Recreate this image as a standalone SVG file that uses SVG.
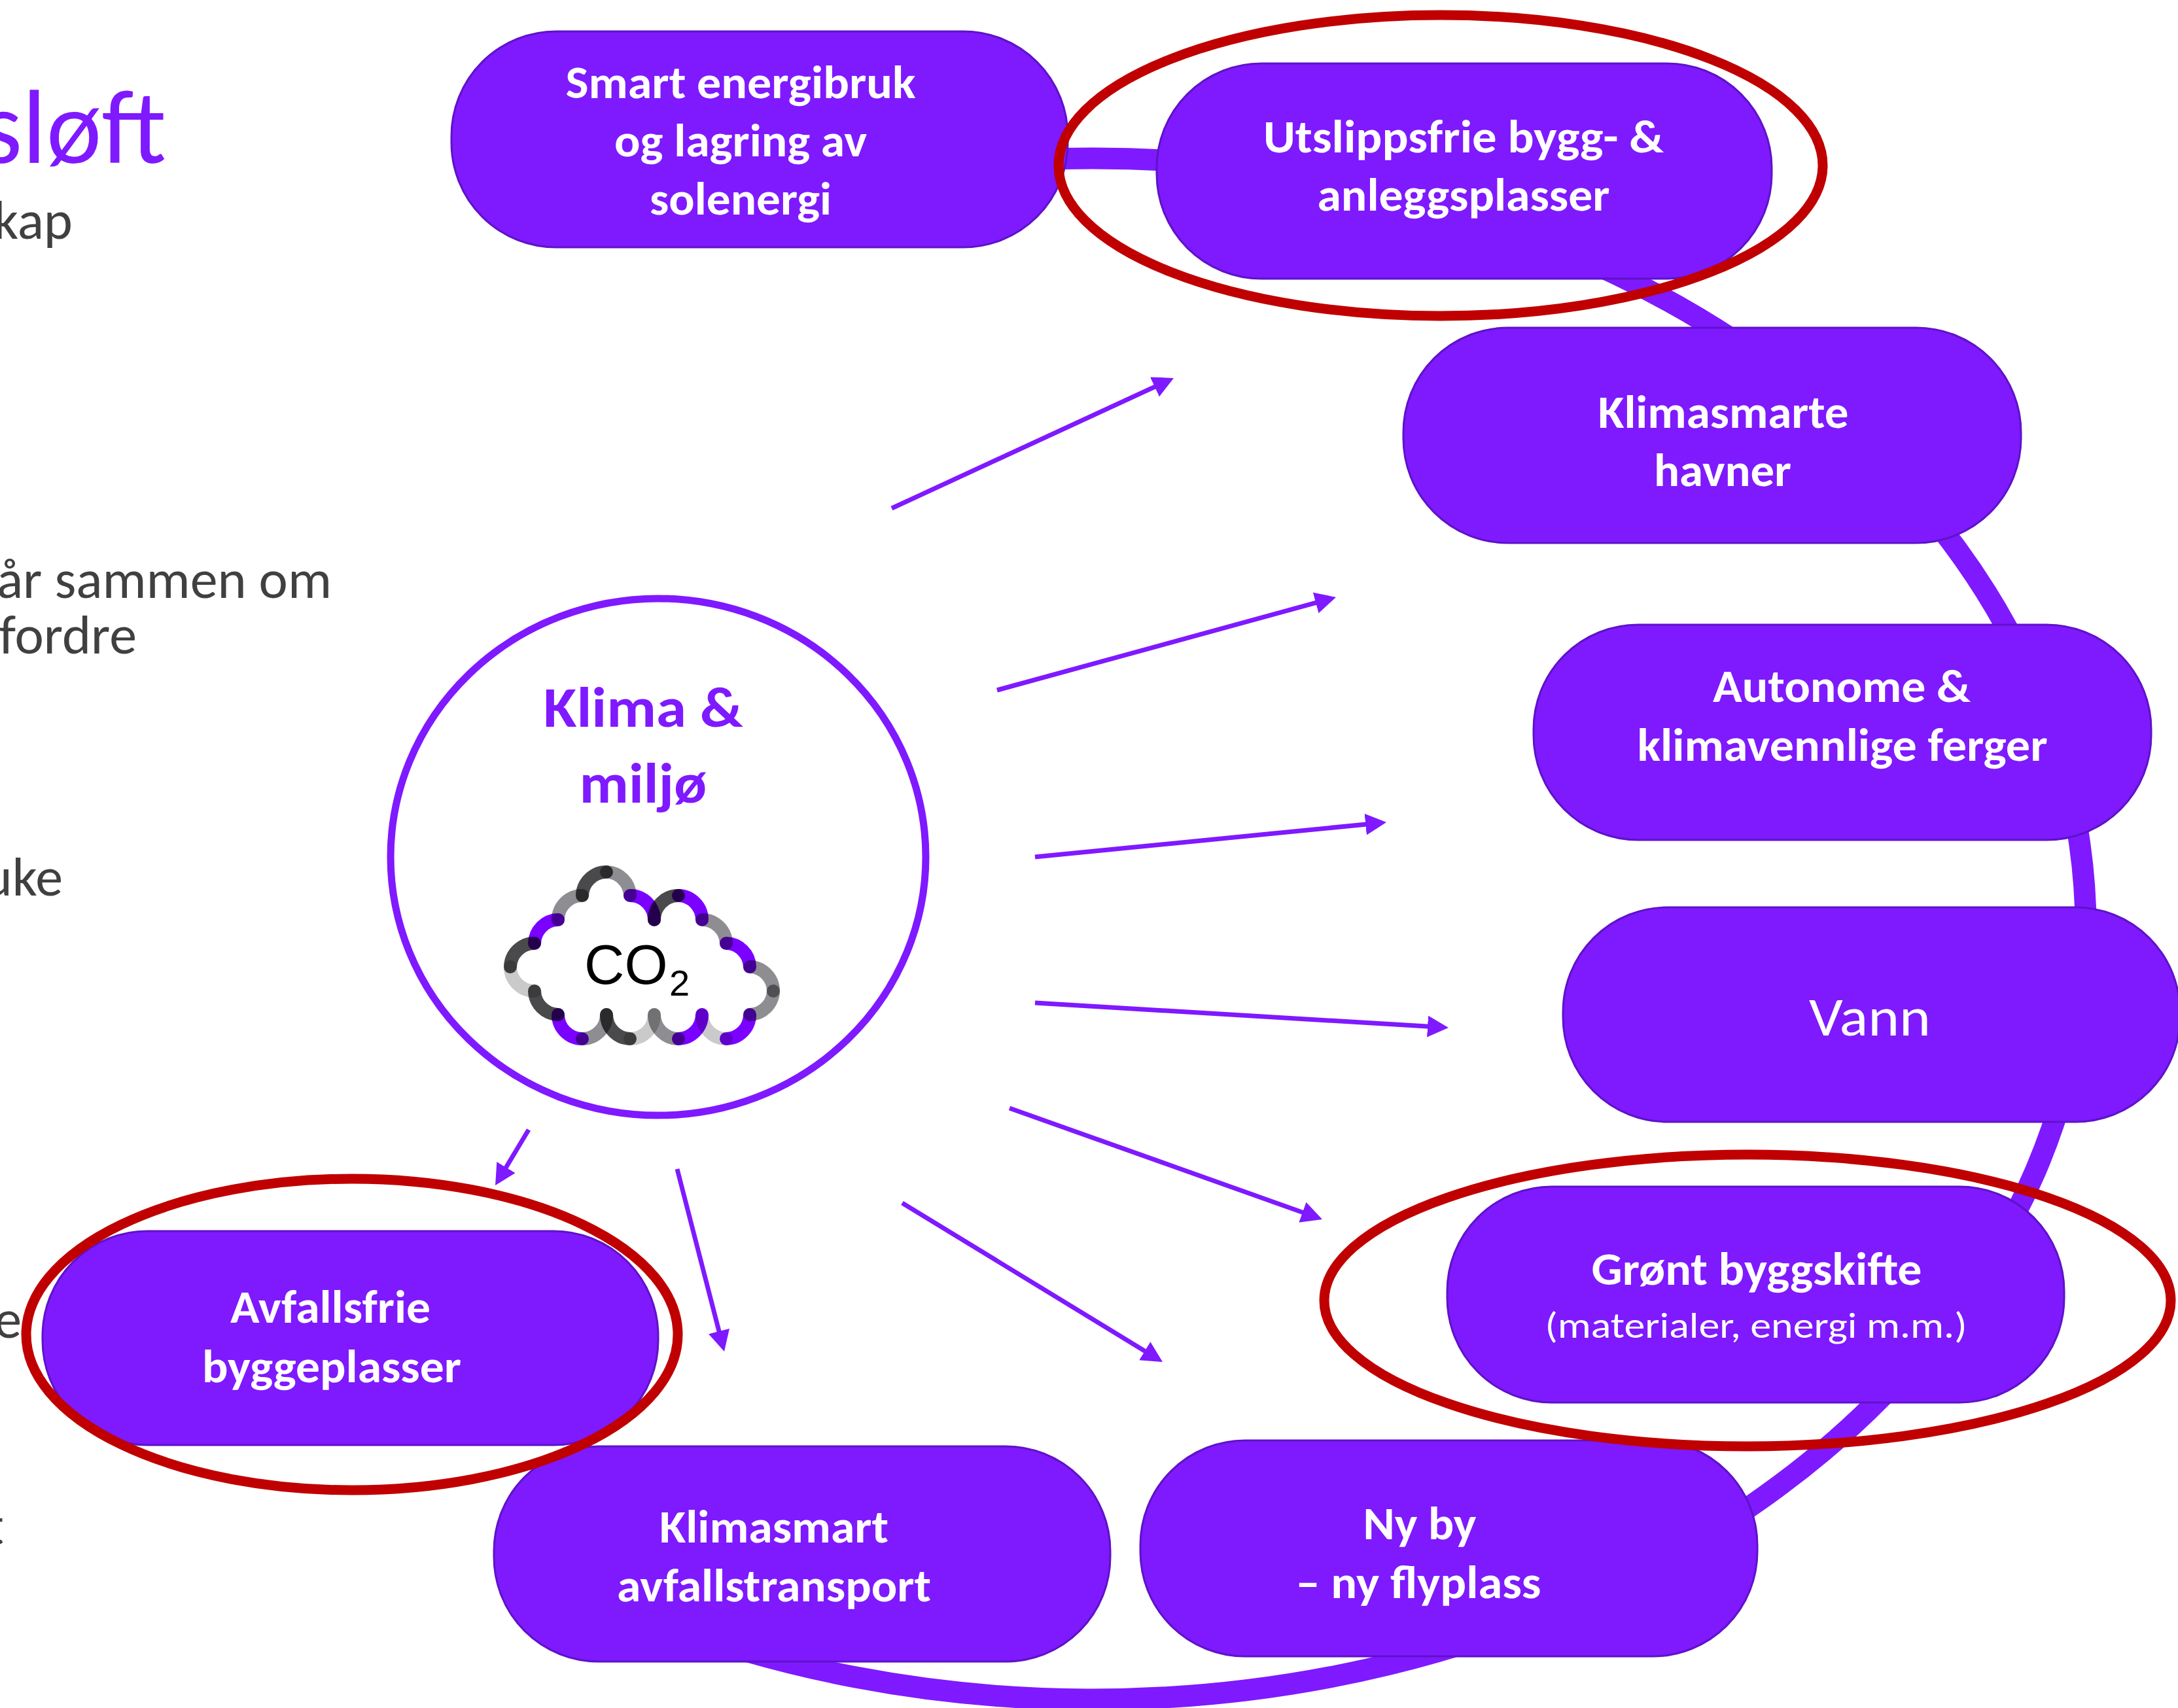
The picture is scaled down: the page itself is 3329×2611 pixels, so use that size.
<svg xmlns="http://www.w3.org/2000/svg" width="3329" height="2611" viewBox="0 0 3329 2611">
<style>
.bg{fill:#ffffff}
.node rect{fill:#7F19FE;stroke:#5F12C9;stroke-width:3}
.nt{font-family:Carlito,Lato,'Liberation Sans',sans-serif;font-weight:700;font-size:70px;fill:#ffffff;text-anchor:middle}
.nr{font-weight:400}
.gray{font-family:Carlito,Lato,'Liberation Sans',sans-serif;font-size:84px;fill:#404040;text-anchor:end}
.title{font-family:Carlito,Lato,'Liberation Sans',sans-serif;font-weight:300;font-size:160px;fill:#7F19FF;text-anchor:end}
.band{fill:none;stroke:#7F19FF;stroke-width:33}
.arrow{fill:none;stroke:#7F19FF;stroke-width:7;marker-end:url(#ah)}
.hl{fill:none;stroke:#C00000;stroke-width:15}
.cl{fill:none;stroke-width:20;stroke-linecap:round;mix-blend-mode:multiply}
.cp{stroke:#7A00FF}
.cd{stroke:#4A4A4C}
.cm{stroke:#8E8E92}
.cg{stroke:#CACACA}
</style>
<defs>
<marker id="ah" markerUnits="userSpaceOnUse" viewBox="0 0 32 33" markerWidth="32" markerHeight="33" refX="20" refY="16.5" orient="auto">
<path d="M0,0 L32,16.5 L0,33 z" fill="#7F19FF"/>
</marker>
</defs>
<rect class="bg" x="0" y="0" width="3329" height="2611"/>

<g id="slide-text">
<text class="title" x="254" y="249">sløft</text>
<text class="gray" x="111" y="365">kap</text>
<text class="gray" x="507" y="914">år sammen om</text>
<text class="gray" x="209" y="999">fordre</text>
<text class="gray" x="96" y="1369">uke</text>
<text class="gray" x="33" y="2045">e</text>
<text class="gray" x="6" y="2361">t</text>
</g>

<g id="connectors">
<path class="band" d="M1300,277.5 A1518,1178 0 1 1 1000,2477"/>
<line class="arrow" x1="1363" y1="777" x2="1783.1" y2="583"/>
<line class="arrow" x1="1524" y1="1055" x2="2030.4" y2="916.2"/>
<line class="arrow" x1="1582" y1="1310" x2="2107.1" y2="1258.2"/>
<line class="arrow" x1="1582" y1="1533" x2="2202" y2="1570.3"/>
<line class="arrow" x1="1543" y1="1694" x2="2009.7" y2="1860"/>
<line class="arrow" x1="1379" y1="1839" x2="1766.8" y2="2075.7"/>
<line class="arrow" x1="1035" y1="1787" x2="1104" y2="2054.4"/>
<line class="arrow" x1="808" y1="1727" x2="763.2" y2="1801.7"/>
</g>

<g id="center">
<ellipse cx="1006" cy="1310" rx="409" ry="395" fill="#ffffff" stroke="#7F19FF" stroke-width="11"/>
<text class="nt" style="fill:#7F19FF;font-size:86px" x="983" y="1111" textLength="305" lengthAdjust="spacingAndGlyphs">Klima &amp;</text>
<text class="nt" style="fill:#7F19FF;font-size:86px" x="983" y="1227" textLength="195" lengthAdjust="spacingAndGlyphs">miljø</text>
<g id="co2-cloud" style="isolation:isolate">
<path class="cl cd" d="M780,1478 A37,37 0 0 1 817,1442"/>
<path class="cl cp" d="M817,1442 A37,37 0 0 1 853,1406"/>
<path class="cl cm" d="M853,1406 A37,37 0 0 1 890,1369"/>
<path class="cl cd" d="M890,1369 A37,37 0 0 1 927,1333"/>
<path class="cl cm" d="M927,1333 A37,37 0 0 1 963,1369"/>
<path class="cl cp" d="M963,1369 A37,37 0 0 1 1000,1406"/>
<path class="cl cd" d="M1000,1406 A37,37 0 0 1 1037,1369"/>
<path class="cl cp" d="M1037,1369 A37,37 0 0 1 1073,1406"/>
<path class="cl cm" d="M1073,1406 A37,37 0 0 1 1110,1442"/>
<path class="cl cp" d="M1110,1442 A37,37 0 0 1 1146,1478"/>
<path class="cl cm" d="M1146,1478 A37,37 0 0 1 1182,1515"/>
<path class="cl cm" d="M1182,1515 A37,37 0 0 1 1146,1551"/>
<path class="cl cp" d="M1146,1551 A37,37 0 0 1 1110,1588"/>
<path class="cl cg" d="M1110,1588 A37,37 0 0 1 1073,1551"/>
<path class="cl cp" d="M1073,1551 A37,37 0 0 1 1037,1588"/>
<path class="cl cm" d="M1037,1588 A37,37 0 0 1 1000,1551"/>
<path class="cl cg" d="M1000,1551 A37,37 0 0 1 963,1588"/>
<path class="cl cd" d="M963,1588 A37,37 0 0 1 927,1551"/>
<path class="cl cm" d="M927,1551 A37,37 0 0 1 890,1588"/>
<path class="cl cp" d="M890,1588 A37,37 0 0 1 853,1551"/>
<path class="cl cd" d="M853,1551 A37,37 0 0 1 817,1515"/>
<path class="cl cg" d="M817,1515 A37,37 0 0 1 780,1478"/>
</g>
<text x="893" y="1504" style="font-family:'Liberation Sans',Arial,sans-serif;font-size:85px;fill:#000000">CO</text>
<text x="1023" y="1522" style="font-family:'Liberation Sans',Arial,sans-serif;font-size:56px;fill:#000000">2</text>
</g>

<g id="n-smart" class="node">
<rect x="690" y="48" width="942" height="330" rx="160" ry="160"/>
<text class="nt" x="1132" y="150" textLength="535" lengthAdjust="spacingAndGlyphs">Smart energibruk</text>
<text class="nt" x="1132" y="239" textLength="386" lengthAdjust="spacingAndGlyphs">og lagring av</text>
<text class="nt" x="1132" y="328" textLength="278" lengthAdjust="spacingAndGlyphs">solenergi</text>
</g>

<g id="n-utslipp" class="node">
<rect x="1768" y="97" width="940" height="329" rx="160" ry="160"/>
<text class="nt" x="2237" y="233" textLength="612" lengthAdjust="spacingAndGlyphs">Utslippsfrie bygg- &amp;</text>
<text class="nt" x="2237" y="322" textLength="447" lengthAdjust="spacingAndGlyphs">anleggsplasser</text>
</g>

<g id="n-havner" class="node">
<rect x="2145" y="501" width="944" height="329" rx="160" ry="160"/>
<text class="nt" x="2634" y="654" textLength="383" lengthAdjust="spacingAndGlyphs">Klimasmarte</text>
<text class="nt" x="2633" y="743" textLength="210" lengthAdjust="spacingAndGlyphs">havner</text>
</g>

<g id="n-ferger" class="node">
<rect x="2344" y="955" width="944" height="329" rx="160" ry="160"/>
<text class="nt" x="2815" y="1073" textLength="394" lengthAdjust="spacingAndGlyphs">Autonome &amp;</text>
<text class="nt" x="2816" y="1163" textLength="627" lengthAdjust="spacingAndGlyphs">klimavennlige ferger</text>
</g>

<g id="n-vann" class="node">
<rect x="2389" y="1387" width="943" height="328" rx="160" ry="160"/>
<text class="nt nr" style="font-size:84px" x="2858" y="1583" textLength="186" lengthAdjust="spacingAndGlyphs">Vann</text>
</g>

<g id="n-gront" class="node">
<rect x="2212" y="1814" width="943" height="330" rx="160" ry="160"/>
<text class="nt" x="2685" y="1964" textLength="505" lengthAdjust="spacingAndGlyphs">Grønt byggskifte</text>
<text class="nt nr" style="font-size:56px" x="2684" y="2045" textLength="645" lengthAdjust="spacingAndGlyphs">(materialer, energi m.m.)</text>
</g>

<g id="n-nyby" class="node">
<rect x="1743" y="2202" width="943" height="330" rx="160" ry="160"/>
<text class="nt" x="2170" y="2353" textLength="173" lengthAdjust="spacingAndGlyphs">Ny by</text>
<text class="nt" x="2168" y="2443" textLength="375" lengthAdjust="spacingAndGlyphs">– ny flyplass</text>
</g>

<g id="n-avfallstransport" class="node">
<rect x="755" y="2211" width="942" height="329" rx="160" ry="160"/>
<text class="nt" x="1183" y="2358" textLength="350" lengthAdjust="spacingAndGlyphs">Klimasmart</text>
<text class="nt" x="1183" y="2448" textLength="480" lengthAdjust="spacingAndGlyphs">avfallstransport</text>
</g>

<g id="n-avfallsfrie" class="node">
<rect x="65" y="1882" width="941" height="327" rx="160" ry="160"/>
<text class="nt" x="505" y="2022" textLength="306" lengthAdjust="spacingAndGlyphs">Avfallsfrie</text>
<text class="nt" x="507" y="2113" textLength="396" lengthAdjust="spacingAndGlyphs">byggeplasser</text>
</g>

<g id="highlights">
<ellipse class="hl" cx="2202" cy="253" rx="584" ry="230"/>
<ellipse class="hl" cx="2671" cy="1988" rx="647" ry="223"/>
<ellipse class="hl" cx="538" cy="2040" rx="498" ry="238"/>
</g>
</svg>
